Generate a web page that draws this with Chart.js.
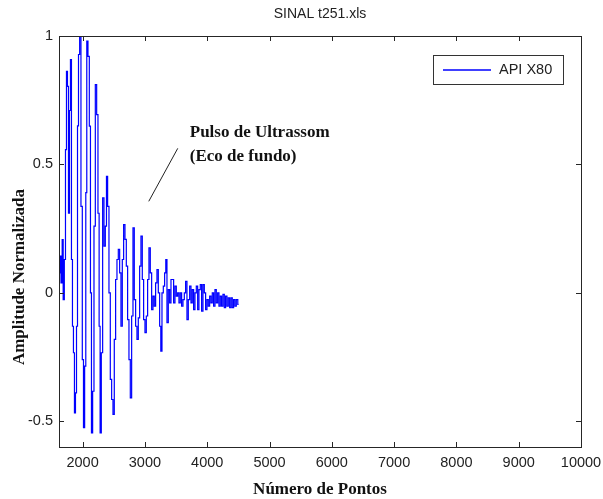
<!DOCTYPE html>
<html>
<head>
<meta charset="utf-8">
<script src="https://cdn.jsdelivr.net/npm/chart.js@4"></script>
<style>
  html, body { margin: 0; padding: 0; background: #fff; }
  #wrap { width: 603px; height: 499px; }
</style>
</head>
<body>
<div id="wrap"><canvas id="myChart" width="603" height="499"></canvas></div>
<script>
// ============================= DATA
let titleText = "SINAL t251.xls";
let xTitle = "Número de Pontos";
let yTitle = "Amplitude Normalizada";
let seriesName = "API X80";
let noteLines = ["Pulso de Ultrassom", "(Eco de fundo)"];

let xTicks = [2000, 3000, 4000, 5000, 6000, 7000, 8000, 9000, 10000];
let yTicks = [-0.5, 0, 0.5, 1];

let signalX = [
  1625, 1642, 1664, 1680, 1696, 1717, 1733, 1749, 1765, 1781, 1797, 1813, 1829, 1845, 1861, 1877,
  1894, 1910, 1926, 1942, 1963, 1984, 2006, 2022, 2043, 2059, 2075, 2097, 2118, 2134, 2150, 2172,
  2193, 2215, 2236, 2257, 2273, 2289, 2311, 2332, 2354, 2375, 2391, 2412, 2434, 2455, 2477, 2498,
  2519, 2541, 2562, 2584, 2605, 2626, 2648, 2669, 2691, 2712, 2733, 2755, 2776, 2798, 2819, 2840,
  2862, 2883, 2905, 2926, 2947, 2969, 2990, 3012, 3033, 3054, 3076, 3097, 3119, 3140, 3161, 3183,
  3204, 3226, 3247, 3263, 3285, 3306, 3327, 3343, 3365, 3386, 3408, 3429, 3450, 3472, 3493, 3515,
  3536, 3557, 3579, 3600, 3622, 3643, 3664, 3686, 3707, 3729, 3750, 3771, 3793, 3814, 3836, 3857,
  3878, 3900, 3921, 3943, 3964, 3985, 4007, 4028, 4050, 4071, 4092, 4114, 4135, 4157, 4178, 4199,
  4221, 4242, 4264, 4285, 4306, 4328, 4349, 4371, 4392, 4413, 4435, 4456, 4478, 4504
];
let signalY = [
  0.078, 0.143, 0.039, 0.207, -0.026, 0.13, 0.558, 0.862, 0.804, 0.31, 0.71, 0.908, 0.13, -0.13, -0.233, -0.467,
  -0.389, -0.13, 0.65, 0.928, 0.999, 0.337, -0.26, -0.525, -0.285, 0.39, 0.98, 0.921, 0.649, 0.0, -0.545, -0.383,
  0.26, 0.811, 0.694, 0.31, -0.13, -0.545, -0.233, 0.37, 0.182, 0.26, 0.454, 0.337, 0.0, -0.337, -0.415, -0.473,
  -0.181, 0.052, 0.13, 0.169, 0.078, -0.13, 0.13, 0.266, 0.208, 0.104, -0.104, -0.26, -0.409, -0.09, 0.253, -0.026,
  -0.13, -0.181, -0.097, 0.104, 0.221, 0.052, -0.104, -0.155, -0.09, 0.052, 0.175, 0.078, -0.065, -0.013, -0.052, 0.039,
  0.091, 0.0, -0.13, -0.227, 0.0, 0.026, 0.078, 0.13, -0.116, 0.013, -0.039, 0.052, 0.052, -0.039, 0.026, -0.013,
  0.0, -0.039, 0.0, -0.052, -0.026, 0.0, 0.045, -0.104, -0.026, 0.026, -0.039, 0.013, -0.065, 0.0, 0.026, -0.065,
  0.013, 0.032, -0.071, 0.032, 0.0, -0.065, -0.026, -0.052, -0.013, -0.039, 0.0, -0.052, 0.013, -0.039, 0.0, -0.052,
  -0.013, -0.052, -0.006, -0.058, -0.013, -0.052, -0.019, -0.058, -0.019, -0.058, -0.026, -0.052, -0.026, -0.045
];

// annotation anchor, in data units
let noteX = 3720;
let noteY = 0.625;

// ============================= PLUGIN (frame, inner ticks, texts, legend)
let matlabLook = {
  id: 'matlabLook',
  afterDraw(chart) {
    let ctx = chart.ctx;
    let a = chart.chartArea;
    let xs = chart.scales.x;
    let ys = chart.scales.y;
    ctx.save();

    // frame
    ctx.strokeStyle = '#262626';
    ctx.lineWidth = 1;
    ctx.strokeRect(Math.round(a.left) + 0.5, Math.round(a.top) + 0.5,
                   Math.round(a.right - a.left), Math.round(a.bottom - a.top));

    // inward ticks on all sides
    let tl = 5;
    ctx.beginPath();
    xTicks.forEach(v => {
      let px = Math.round(xs.getPixelForValue(v)) + 0.5;
      ctx.moveTo(px, a.bottom); ctx.lineTo(px, a.bottom - tl);
      ctx.moveTo(px, a.top); ctx.lineTo(px, a.top + tl);
    });
    yTicks.forEach(v => {
      let py = Math.round(ys.getPixelForValue(v)) + 0.5;
      ctx.moveTo(a.left, py); ctx.lineTo(a.left + tl, py);
      ctx.moveTo(a.right, py); ctx.lineTo(a.right - tl, py);
    });
    ctx.stroke();

    // title
    ctx.fillStyle = '#222';
    ctx.font = '14px "Liberation Sans", Arial, sans-serif';
    ctx.textAlign = 'center';
    ctx.textBaseline = 'middle';
    ctx.fillText(titleText, (a.left + a.right) / 2, 14);

    // axis titles
    ctx.fillStyle = '#111';
    ctx.font = 'bold 17px "Liberation Serif", "Times New Roman", serif';
    ctx.fillText(xTitle, (a.left + a.right) / 2, 490);
    ctx.save();
    ctx.translate(20, 277);
    ctx.rotate(-Math.PI / 2);
    ctx.fillText(yTitle, 0, 0);
    ctx.restore();

    // annotation
    let nx = xs.getPixelForValue(noteX);
    let ny = ys.getPixelForValue(noteY);
    ctx.textAlign = 'left';
    ctx.font = 'bold 17px "Liberation Serif", "Times New Roman", serif';
    ctx.fillText(noteLines[0], nx, ny);
    ctx.fillText(noteLines[1], nx, ny + 24);
    ctx.strokeStyle = '#222';
    ctx.beginPath();
    ctx.moveTo(nx - 12, ny + 16);
    ctx.lineTo(nx - 41, ny + 69);
    ctx.stroke();

    // legend box
    let lx = a.right - 148, ly = a.top + 19, lw = 130, lh = 29;
    ctx.fillStyle = '#fff';
    ctx.fillRect(lx, ly, lw, lh);
    ctx.strokeStyle = '#333';
    ctx.lineWidth = 1;
    ctx.strokeRect(lx + 0.5, ly + 0.5, lw, lh);
    ctx.beginPath();
    ctx.strokeStyle = '#0000ff';
    ctx.lineWidth = 1.3;
    ctx.moveTo(lx + 10, ly + 15);
    ctx.lineTo(lx + 58, ly + 15);
    ctx.stroke();
    ctx.fillStyle = '#222';
    ctx.font = '14.5px "Liberation Sans", Arial, sans-serif';
    ctx.textBaseline = 'middle';
    ctx.fillText(seriesName, lx + 66, ly + 15);

    ctx.restore();
  }
};

// ============================= LINE
let points = signalX.map((x, i) => ({ x: x, y: signalY[i] }));

let ctx = document.getElementById('myChart').getContext('2d');
let myChart = new Chart(ctx, {
  type: 'line',
  data: {
    datasets: [{
      label: seriesName,
      data: points,
      borderColor: '#0000ff',
      borderWidth: 1.2,
      pointRadius: 0,
      stepped: 'middle',
      fill: false
    }]
  },
  options: {
    responsive: false,
    animation: false,
    layout: { padding: { top: 36, right: 22, left: 0, bottom: 0 } },
    plugins: {
      legend: { display: false },
      title: { display: false },
      tooltip: { enabled: false }
    },
    scales: {
      x: {
        type: 'linear',
        min: 1621,
        max: 10000,
        afterFit: s => { s.height = 52; s.paddingLeft = 0; s.paddingRight = 0; },
        afterBuildTicks: s => { s.ticks = xTicks.map(v => ({ value: v })); },
        grid: { display: false, drawTicks: false },
        border: { display: false },
        ticks: {
          padding: 7,
          color: '#222',
          font: { family: '"Liberation Sans", Arial, sans-serif', size: 14.5 },
          maxRotation: 0,
          autoSkip: false,
          callback: v => String(v)
        }
      },
      y: {
        type: 'linear',
        min: -0.6,
        max: 1,
        afterFit: s => { s.width = 59; s.paddingTop = 0; s.paddingBottom = 0; },
        afterBuildTicks: s => { s.ticks = yTicks.map(v => ({ value: v })); },
        grid: { display: false, drawTicks: false },
        border: { display: false },
        ticks: {
          padding: 6,
          color: '#222',
          font: { family: '"Liberation Sans", Arial, sans-serif', size: 14.5 },
          autoSkip: false,
          callback: v => String(v)
        }
      }
    }
  },
  plugins: [matlabLook]
});
</script>
</body>
</html>
